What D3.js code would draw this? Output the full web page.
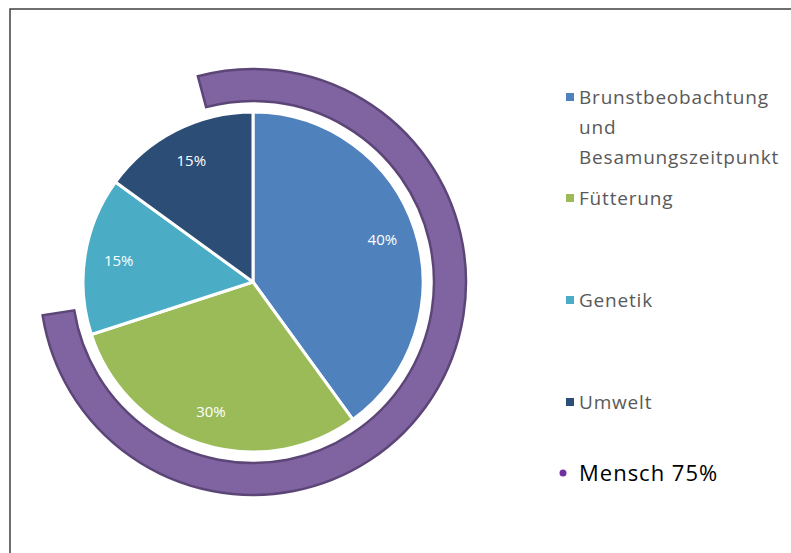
<!DOCTYPE html>
<html>
<head>
<meta charset="utf-8">
<script src="https://cdn.jsdelivr.net/npm/d3@7/dist/d3.min.js"></script>
<style>
  body { margin: 0; background: #fff; }
  svg { display: block; font-family: "Open Sans", "Noto Sans", sans-serif; }
</style>
</head>
<body>
<div id="viz"></div>
<script>
var w = 791, h = 553;

// pie data
var categories = ["Brunstbeobachtung und Besamungszeitpunkt", "Fütterung", "Genetik", "Umwelt"];
var values = [40, 30, 15, 15];
var colors = ["#4f81bd", "#9bbb59", "#4bacc6", "#2c4d75"];
// legend line breaks as in the picture
var legendLines = [["Brunstbeobachtung", "und", "Besamungszeitpunkt"], ["Fütterung"], ["Genetik"], ["Umwelt"]];

// outer ring
var ringLabel = "Mensch";
var ringValue = 75;

var cx = 253, cy = 282, r = 170;

var svg = d3.select("#viz").append("svg")
  .attr("width", w)
  .attr("height", h);

// chart frame (only top/left visible in the crop)
svg.append("rect")
  .attr("x", 10).attr("y", 9)
  .attr("width", 800).attr("height", 600)
  .attr("fill", "none")
  .attr("stroke", "#404040")
  .attr("stroke-width", 1.5);

var g = svg.append("g").attr("transform", "translate(" + cx + "," + cy + ")");

var pie = d3.pie().sort(null).value(d => d);
var arcs = pie(values);

var arc = d3.arc().innerRadius(0).outerRadius(r);
var labelArc = d3.arc().innerRadius(r * 0.8).outerRadius(r * 0.8);

g.selectAll("path.slice")
  .data(arcs)
  .enter()
  .append("path")
  .attr("class", "slice")
  .attr("d", arc)
  .attr("fill", (d, i) => colors[i])
  .attr("stroke", "#fff")
  .attr("stroke-width", 3)
  .attr("stroke-linejoin", "round");

g.selectAll("text.pct")
  .data(arcs)
  .enter()
  .append("text")
  .attr("class", "pct")
  .attr("transform", d => "translate(" + labelArc.centroid(d) + ")")
  .attr("text-anchor", "middle")
  .attr("dy", "0.35em")
  .attr("fill", "#fff")
  .style("font-size", "15px")
  .text(d => d.value + "%");

// ring: value 75 mapped on the angle the picture shows
var ringAngle = d3.scaleLinear().domain([0, ringValue]).range([-15, 261]);
var ringArc = d3.arc()
  .innerRadius(181)
  .outerRadius(213)
  .startAngle(ringAngle(0) * Math.PI / 180)
  .endAngle(ringAngle(ringValue) * Math.PI / 180);

g.append("path")
  .attr("d", ringArc())
  .attr("fill", "#8064a2")
  .attr("stroke", "#5c4677")
  .attr("stroke-width", 2.5);

// legend
var legendX = 566;
var legendY = [97, 198, 300, 402];
var lineH = 30;

var leg = svg.selectAll("g.legend")
  .data(categories)
  .enter()
  .append("g")
  .attr("class", "legend");

leg.append("rect")
  .attr("x", legendX)
  .attr("y", (d, i) => legendY[i] - 4)
  .attr("width", 8)
  .attr("height", 8)
  .attr("fill", (d, i) => colors[i]);

leg.each(function(d, i) {
  d3.select(this).selectAll("text")
    .data(legendLines[i])
    .enter()
    .append("text")
    .attr("x", legendX + 13)
    .attr("y", (t, j) => legendY[i] + j * lineH)
    .attr("dy", "0.35em")
    .attr("fill", "#595959")
    .style("font-size", "19px")
    .style("letter-spacing", "0.8px")
    .text(t => t);
});

svg.append("circle")
  .attr("cx", 563).attr("cy", 473).attr("r", 3.5)
  .attr("fill", "#7030a0");

svg.append("text")
  .attr("x", legendX + 13)
  .attr("y", 473)
  .attr("dy", "0.35em")
  .attr("fill", "#000")
  .style("font-size", "22px")
  .style("letter-spacing", "1px")
  .text(ringLabel + " " + ringValue + "%");
</script>
</body>
</html>
